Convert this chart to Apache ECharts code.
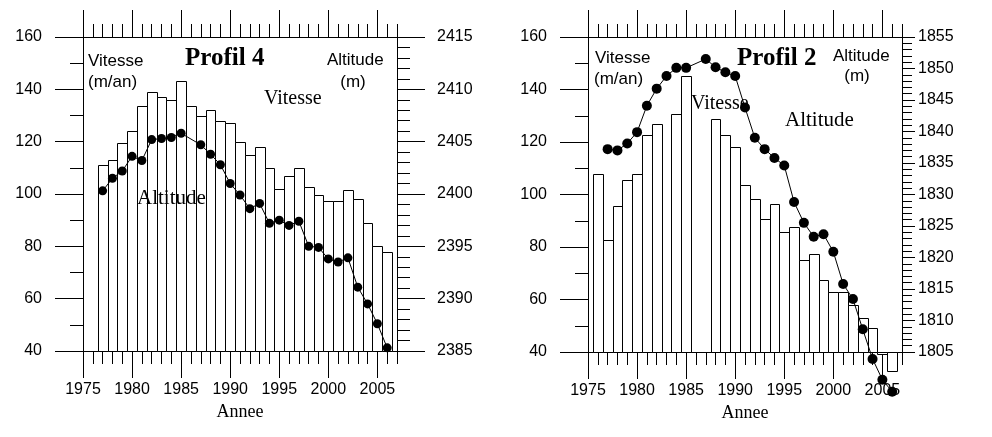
<!DOCTYPE html>
<html>
<head>
<meta charset="utf-8">
<script src="https://cdn.jsdelivr.net/npm/echarts@6/dist/echarts.min.js"></script>
<style>
  html, body { margin: 0; padding: 0; background: #fff; }
  #chart { width: 992px; height: 437px; }
</style>
</head>
<body>
<div id="chart"></div>
<script>
// Profil 4 (panneau gauche)
var years4 = [1977, 1978, 1979, 1980, 1981, 1982, 1983, 1984, 1985, 1986,
  1987, 1988, 1989, 1990, 1991, 1992, 1993, 1994, 1995, 1996,
  1997, 1998, 1999, 2000, 2001, 2002, 2003, 2004, 2005, 2006];
var vitesse4 = [111, 113, 119.5, 124, 133.5, 139, 137, 136, 143, 133.5,
  130, 132, 128, 127, 120, 115, 118, 110, 102, 107,
  110, 102.5, 99.5, 97.5, 97.5, 101.5, 98, 89, 80, 78];
// null = pas de point cette annee-la
var altitude4 = [2400.3, 2401.5, 2402.2, 2403.6, 2403.2, 2405.2, 2405.3, 2405.4, 2405.8, null,
  2404.7, 2403.8, 2402.8, 2401.0, 2399.9, 2398.6, 2399.1, 2397.2, 2397.5, 2397.0,
  2397.4, 2395.0, 2394.9, 2393.8, 2393.5, 2393.9, 2391.1, 2389.5, 2387.6, 2385.3];

// Profil 2 (panneau droit)
var years2 = [1976, 1977, 1978, 1979, 1980, 1981, 1982, 1983, 1984, 1985,
  1986, 1987, 1988, 1989, 1990, 1991, 1992, 1993, 1994, 1995,
  1996, 1997, 1998, 1999, 2000, 2001, 2002, 2003, 2004, 2005, 2006];
var vitesse2 = [108, 82.7, 95.5, 105.4, 108, 122.6, 127, null, 130.6, 145.3,
  null, null, 128.6, 122.6, 118.1, 103.5, 98.2, 90.7, 96.5, 85.6,
  87.8, 75, 77.3, 67.5, 62.8, 62.8, 57.9, 52.9, 49, 39.4, 32.6];
var altitude2 = [null, 1837.2, 1837.0, 1838.1, 1839.9, 1844.1, 1846.8, 1848.8, 1850.1, 1850.1,
  null, 1851.5, 1850.2, 1849.4, 1848.8, 1843.8, 1839.0, 1837.2, 1835.8, 1834.6,
  1828.8, 1825.5, 1823.3, 1823.7, 1820.9, 1815.8, 1813.4, 1808.6, 1803.9, 1800.6, 1798.7];

// axes
var yearMin = 1975, yearMax = 2007;
var yearTicks = [1975, 1980, 1985, 1990, 1995, 2000, 2005];
var vitMin = 40, vitMax = 160, vitStep = 20;
var alt4Min = 2385, alt4Max = 2415;
var alt2Min = 1805, alt2Max = 1855;
var altStep = 5;

var SANS = 'Liberation Sans';
var SERIF = 'Liberation Serif';
var BLACK = '#000';

function pairs(xs, ys) {
  var out = [];
  for (var i = 0; i < xs.length; i++) {
    if (ys[i] != null) out.push([xs[i], ys[i]]);
  }
  return out;
}

function plain(v) { return String(v); }

// barre d'une annee, du bas de l'axe (40) jusqu'a la valeur
function renderBar(params, api) {
  var x = api.value(0), v = api.value(1);
  var p0 = api.coord([x - 0.5, vitMin]);
  var p1 = api.coord([x + 0.5, v]);
  var x0 = Math.round(p0[0]) + 0.5, x1 = Math.round(p1[0]) + 0.5;
  var yb = Math.round(p0[1]) + 0.5, yt = Math.round(p1[1]) + 0.5;
  return {
    type: 'rect',
    shape: { x: x0, y: Math.min(yb, yt), width: x1 - x0, height: Math.abs(yb - yt) },
    style: { fill: '#fff', stroke: BLACK, lineWidth: 1 }
  };
}

var lineStyle = { color: BLACK, width: 1 };

function majorX(grid, pos, withLabels) {
  return {
    type: 'value', gridIndex: grid, position: pos,
    min: yearMin, max: yearMax,
    axisLine: { show: true, onZero: false, lineStyle: { color: BLACK, width: 1 } },
    axisTick: { show: true, length: 27, customValues: yearTicks, lineStyle: { color: BLACK } },
    axisLabel: {
      show: withLabels, customValues: yearTicks, margin: 31, formatter: plain,
      color: BLACK, fontFamily: SANS, fontSize: 16
    },
    splitLine: { show: false },
    name: withLabels ? 'Annee' : '',
    nameLocation: 'middle', nameGap: 48,
    nameTextStyle: { color: BLACK, fontFamily: SERIF, fontSize: 18 }
  };
}

function minorX(grid, pos) {
  return {
    type: 'value', gridIndex: grid, position: pos,
    min: yearMin, max: yearMax, interval: 1,
    axisLine: { show: false, onZero: false },
    axisTick: { show: true, length: 13, lineStyle: { color: BLACK } },
    axisLabel: { show: false },
    splitLine: { show: false }
  };
}

function valueY(grid, pos, min, max, step, split, margin, tickLen, minorLen) {
  return {
    type: 'value', gridIndex: grid, position: pos,
    min: min, max: max, interval: step,
    axisLine: { show: true, onZero: false, lineStyle: { color: BLACK, width: 1 } },
    axisTick: { show: true, length: tickLen, lineStyle: { color: BLACK } },
    minorTick: { show: true, splitNumber: split, length: minorLen, lineStyle: { color: BLACK } },
    axisLabel: { margin: margin, formatter: plain, color: BLACK, fontFamily: SANS, fontSize: 16 },
    splitLine: { show: false },
    minorSplitLine: { show: false }
  };
}

function hiddenY(grid) {
  return { type: 'value', gridIndex: grid, show: false, min: 0, max: 1 };
}

function txt(x, y, s, font, size, weight, align) {
  return {
    type: 'text', x: x, y: y, z: 3,
    style: {
      text: s, fill: BLACK, fontFamily: font, fontSize: size,
      fontWeight: weight || 'normal', align: align || 'left', verticalAlign: 'middle'
    }
  };
}

var chart = echarts.init(document.getElementById('chart'), null, { renderer: 'canvas' });

var option = {
  backgroundColor: '#fff',
  animation: false,
  grid: [
    { left: 83, top: 37, width: 314, height: 314 },
    { left: 83, top: 37, width: 314, height: 314 },
    { left: 588, top: 37, width: 314, height: 315 },
    { left: 588, top: 37, width: 314, height: 315 }
  ],
  xAxis: [
    majorX(0, 'bottom', true),
    majorX(0, 'top', false),
    minorX(1, 'bottom'),
    minorX(1, 'top'),
    majorX(2, 'bottom', true),
    majorX(2, 'top', false),
    minorX(3, 'bottom'),
    minorX(3, 'top')
  ],
  yAxis: [
    valueY(0, 'left', vitMin, vitMax, vitStep, 2, 41, 28, 13),
    valueY(0, 'right', alt4Min, alt4Max, altStep, 5, 40, 28, 13),
    hiddenY(1),
    valueY(2, 'left', vitMin, vitMax, vitStep, 2, 41, 28, 13),
    valueY(2, 'right', alt2Min, alt2Max, altStep, 5, 16, 13, 10),
    hiddenY(3)
  ],
  graphic: [
    // Profil 4
    txt(88, 61, 'Vitesse', SANS, 17),
    txt(88, 82, '(m/an)', SANS, 17),
    txt(185, 59, 'Profil 4', SERIF, 25, 'bold'),
    txt(327, 60, 'Altitude', SANS, 17),
    txt(353, 82, '(m)', SANS, 17, 'normal', 'center'),
    txt(264, 99, 'Vitesse', SERIF, 20),
    txt(137, 198, 'Altitude', SERIF, 21),
    // Profil 2
    txt(595, 58, 'Vitesse', SANS, 17),
    txt(594, 79, '(m/an)', SANS, 17),
    txt(737, 59, 'Profil 2', SERIF, 25, 'bold'),
    txt(833, 56, 'Altitude', SANS, 17),
    txt(857, 76, '(m)', SANS, 17, 'normal', 'center'),
    txt(691, 104, 'Vitesse', SERIF, 20),
    txt(785, 120, 'Altitude', SERIF, 21)
  ],
  series: [
    {
      name: 'Vitesse', type: 'custom', xAxisIndex: 0, yAxisIndex: 0,
      renderItem: renderBar, encode: { x: 0, y: 1 }, z: 2,
      data: pairs(years4, vitesse4)
    },
    {
      name: 'Altitude', type: 'line', xAxisIndex: 0, yAxisIndex: 1,
      data: pairs(years4, altitude4), symbol: 'circle', symbolSize: 9,
      itemStyle: { color: BLACK }, lineStyle: lineStyle, clip: false, z: 5
    },
    {
      name: 'Vitesse', type: 'custom', xAxisIndex: 4, yAxisIndex: 3,
      renderItem: renderBar, encode: { x: 0, y: 1 }, z: 2,
      data: pairs(years2, vitesse2)
    },
    {
      name: 'Altitude', type: 'line', xAxisIndex: 4, yAxisIndex: 4,
      data: pairs(years2, altitude2), symbol: 'circle', symbolSize: 10,
      itemStyle: { color: BLACK }, lineStyle: lineStyle, clip: false, z: 5
    }
  ]
};

chart.setOption(option);
</script>
</body>
</html>
